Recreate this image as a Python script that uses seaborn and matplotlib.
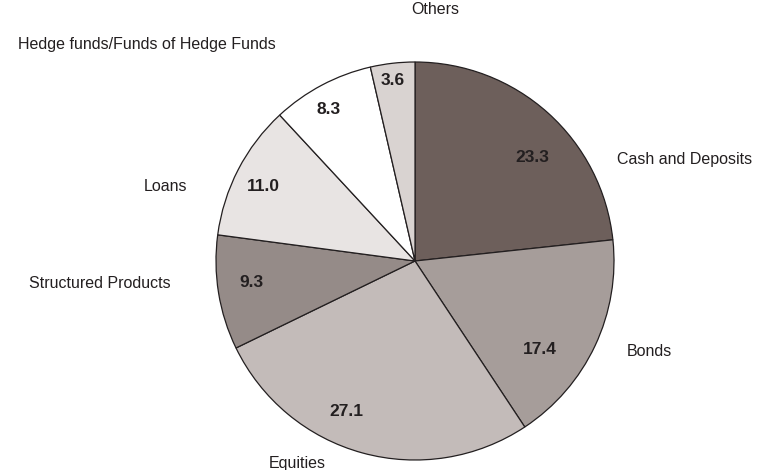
import matplotlib
matplotlib.use("Agg")
import matplotlib.pyplot as plt
import seaborn as sns

sns.set_theme(style="white")
plt.rcParams["font.family"] = ["Liberation Sans", "DejaVu Sans"]

# Asset allocation shares (%)
categories = ["Cash and Deposits", "Bonds", "Equities", "Structured Products",
              "Loans", "Hedge funds/Funds of Hedge Funds", "Others"]
values = [23.3, 17.4, 27.1, 9.3, 11.0, 8.3, 3.6]
colors = ["#6d5f5b", "#a69d9a", "#c3bbb9", "#958b88", "#e8e4e3", "#ffffff", "#d9d3d1"]

# Label placement in units of the pie radius
name_pos = [(1.357, 0.508), (1.176, -0.457), (-0.593, -1.02), (-1.583, -0.111),
            (-1.256, 0.372), (-1.347, 1.09), (0.10, 1.262)]
value_pos = [(0.588, 0.518), (0.628, -0.447), (-0.347, -0.754), (-0.824, -0.106),
             (-0.764, 0.372), (-0.432, 0.759), (-0.111, 0.905)]

ink = "#231f20"

fig = plt.figure(figsize=(7.58, 4.70), dpi=100)
cx, cy, r = 415, 261, 199
W, H = 758, 470
ax = fig.add_axes([(cx - r) / W, (H - cy - r) / H, 2 * r / W, 2 * r / H])

ax.pie(values, colors=colors, startangle=90, counterclock=False, radius=1.0,
       wedgeprops=dict(edgecolor=ink, linewidth=0.9))
ax.set_xlim(-1, 1)
ax.set_ylim(-1, 1)
ax.set_aspect("equal")
ax.axis("off")

for name, (x, y) in zip(categories, name_pos):
    ax.text(x, y, name, ha="center", va="center", fontsize=11.5, color=ink,
            clip_on=False)
for v, (x, y) in zip(values, value_pos):
    ax.text(x, y, f"{v:.1f}", ha="center", va="center", fontsize=12.5,
            fontweight="bold", color=ink, clip_on=False)

fig.savefig("out.png", dpi=100, facecolor="white")
